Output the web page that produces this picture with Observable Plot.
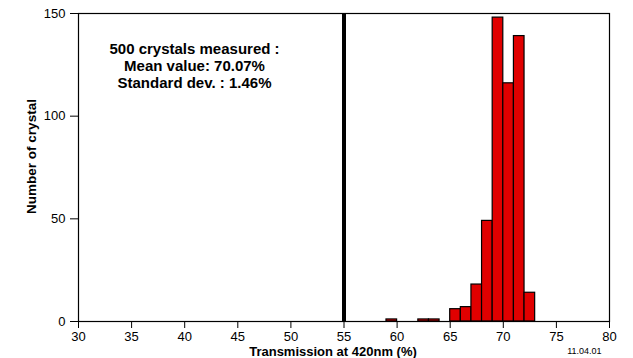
<!DOCTYPE html>
<html>
<head>
<meta charset="utf-8">
<script src="https://cdn.jsdelivr.net/npm/d3@7"></script>
<script src="https://cdn.jsdelivr.net/npm/@observablehq/plot@0.6"></script>
<style>
  html, body { margin: 0; padding: 0; background: white; }
  svg { display: block; }
</style>
</head>
<body>
<div id="chart"></div>
<script>
// Histogram bins (left edge, width 1 %) and counts
const binStart = [59, 62, 63, 65, 66, 67, 68, 69, 70, 71, 72];
const counts   = [1, 1, 1, 6, 7, 18, 49, 148, 116, 139, 14];
const binWidth = 1;

const xTicks = [30, 35, 40, 45, 50, 55, 60, 65, 70, 75, 80];
const yTicks = [0, 50, 100, 150];
const markerX = [55];

const annotationLines = ["500 crystals measured :", "Mean value: 70.07%", "Standard dev. : 1.46%"];
const xLabel = "Transmission at 420nm (%)";
const yLabel = "Number of crystal";
const dateLabel = "11.04.01";

const bins = binStart.map((b, i) => ({x1: b, x2: b + binWidth, y: counts[i]}));

const chart = Plot.plot({
  width: 633,
  height: 358,
  marginLeft: 78,
  marginRight: 24,
  marginTop: 13,
  marginBottom: 37,
  style: {fontFamily: "'Liberation Sans', Arial, sans-serif", fontSize: "13px", background: "white", color: "black"},
  x: {domain: [30, 80], label: null},
  y: {domain: [0, 150], label: null},
  marks: [
    Plot.rectY(bins, {x1: "x1", x2: "x2", y: "y", fill: "#e00000", stroke: "black", strokeWidth: 1.2, inset: 0}),
    Plot.ruleX(markerX, {y1: 0, y2: 150, stroke: "black", strokeWidth: 4}),
    Plot.frame({stroke: "black", strokeWidth: 1.2}),
    Plot.axisX({ticks: xTicks, tickSize: 7, tickPadding: 3, label: null, fontSize: 13, stroke: "black"}),
    Plot.axisY({ticks: yTicks, tickSize: 8, tickPadding: 5, label: null, fontSize: 13, stroke: "black"}),
    Plot.text([annotationLines.join("\n")], {frameAnchor: "top-left", dx: 116, dy: 52, lineAnchor: "middle", textAnchor: "middle", fontSize: 15, fontWeight: "bold", lineHeight: 1.13, fill: "black"}),
    Plot.text([xLabel], {frameAnchor: "bottom", dx: -11, dy: 30, lineAnchor: "middle", textAnchor: "middle", fontSize: 13, fontWeight: "bold", fill: "black"}),
    Plot.text([yLabel], {frameAnchor: "left", dx: -47, dy: -11, rotate: -90, lineAnchor: "middle", textAnchor: "middle", fontSize: 13.5, fontWeight: "bold", fill: "black"}),
    Plot.text([dateLabel], {frameAnchor: "bottom-right", dx: -8, dy: 30, lineAnchor: "middle", textAnchor: "end", fontSize: 9, fill: "black"})
  ]
});
document.getElementById("chart").appendChild(chart);
</script>
</body>
</html>
